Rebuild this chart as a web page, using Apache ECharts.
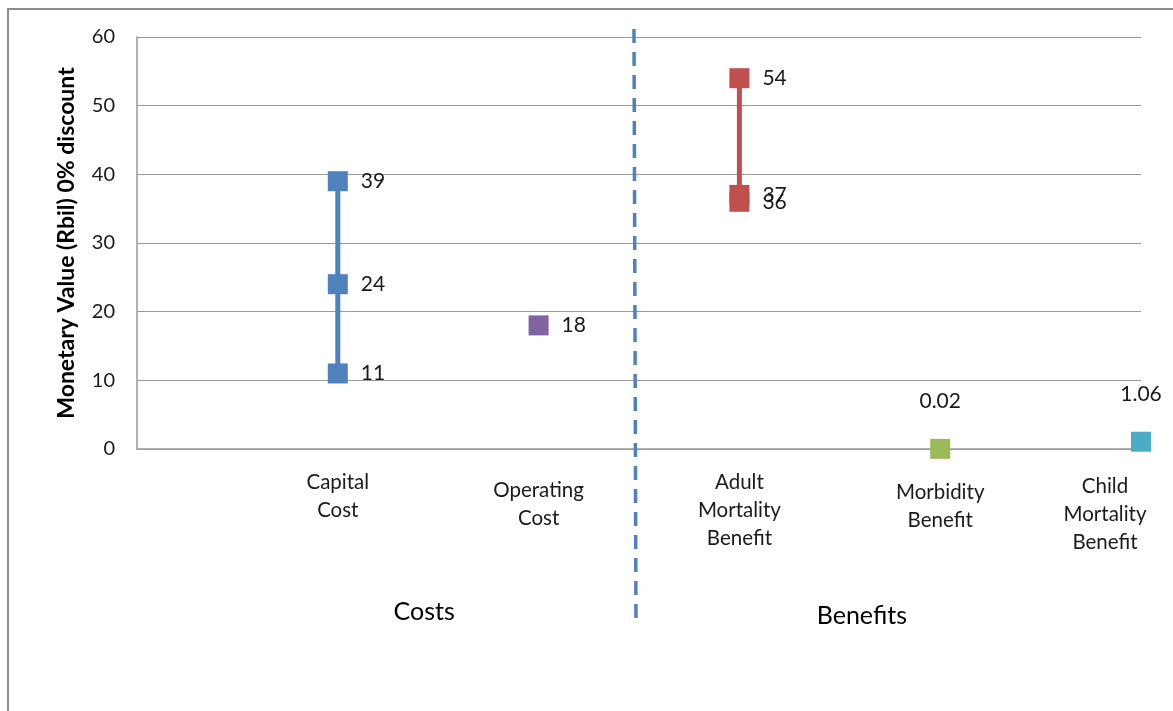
<!DOCTYPE html>
<html>
<head>
<meta charset="utf-8">
<script src="https://cdn.jsdelivr.net/npm/echarts@6/dist/echarts.min.js"></script>
<style>
  html, body { margin: 0; padding: 0; background: #fff; }
  #chart { width: 1173px; height: 711px; }
</style>
</head>
<body>
<div id="chart"></div>
<script>
// Category names along the horizontal axis (placed at positions 1..5)
const categories = ['Capital\nCost', 'Operating\nCost', 'Adult\nMortality\nBenefit', 'Morbidity\nBenefit', 'Child\nMortality\nBenefit'];

// Monetary values (R billion, 0% discount) per category
const capitalCost = [39, 24, 11];
const operatingCost = [18];
const adultMortality = [54, 37, 36];
const morbidityBenefit = [0.02];
const childMortality = [1.06];

// Value-axis ticks
const yMin = 0, yMax = 60, yStep = 10;

// Group captions below the categories and the split between them
const groupLabels = ['Costs', 'Benefits'];
const groupSplit = 2.475;

const FONT = 'Lato, "Open Sans", sans-serif';
const colors = ['#4F81BD', '#8064A2', '#C0504D', '#9BBB59', '#4BACC6'];
const seriesValues = [capitalCost, operatingCost, adultMortality, morbidityBenefit, childMortality];
const labelPos = ['right', 'right', 'right', 'top', 'top'];

// Per-category label layout: extra space above the first line, sideways shift
const catDrop = [0, 9, 1, 11, 5];
const catShift = [0, 0, 0, 0, 72];

const chart = echarts.init(document.getElementById('chart'), null, { renderer: 'canvas' });

const series = seriesValues.map((vals, i) => ({
  name: categories[i].replace(/\n/g, ' '),
  type: 'line',
  data: vals.map(v => [i + 1, v]),
  symbol: 'rect',
  symbolSize: 20,
  showAllSymbol: true,
  clip: false,
  itemStyle: { color: colors[i] },
  lineStyle: { color: colors[i], width: 5 },
  z: 3,
  label: {
    show: true,
    position: labelPos[i],
    distance: labelPos[i] === 'top' ? 27 : 13,
    formatter: p => String(p.value[1]),
    color: '#1a1a1a',
    fontFamily: FONT,
    fontSize: 21
  },
  labelLayout: { hideOverlap: false },
  emphasis: { disabled: true }
}));

// Rich styles for the category labels
const catRich = {};
categories.forEach((c, i) => {
  catRich['sp' + i] = { fontSize: 1, lineHeight: Math.max(catDrop[i], 1), padding: [0, catShift[i], 0, 0] };
  catRich['t' + i] = { fontFamily: FONT, fontSize: 20.5, lineHeight: 28, color: '#1a1a1a', padding: [0, catShift[i], 0, 0] };
});

const option = {
  animation: false,
  backgroundColor: '#fff',
  grid: { left: 137, top: 37, right: 32, bottom: 262, containLabel: false, outerBoundsMode: 'none' },
  xAxis: {
    type: 'value',
    min: 0,
    max: categories.length,
    interval: 1,
    splitLine: { show: false },
    axisTick: { show: false },
    axisLine: { show: true, lineStyle: { color: '#9a9a9a', width: 1.5 } },
    axisLabel: {
      margin: 18,
      align: 'center',
      verticalAlign: 'top',
      showMinLabel: false,
      hideOverlap: false,
      rich: catRich,
      formatter: v => {
        if (!(v >= 1 && v <= categories.length)) return '';
        const i = v - 1;
        return '{sp' + i + '| }\n' + categories[i].split('\n').map(s => '{t' + i + '|' + s + '}').join('\n');
      }
    }
  },
  yAxis: {
    type: 'value',
    min: yMin,
    max: yMax,
    interval: yStep,
    name: 'Monetary Value (Rbil) 0% discount',
    nameLocation: 'middle',
    nameGap: 59,
    nameRotate: 90,
    nameTextStyle: { color: '#000', fontFamily: FONT, fontSize: 23, fontWeight: 'bold' },
    axisLine: { show: true, lineStyle: { color: '#9a9a9a', width: 1.5 } },
    axisTick: { show: false },
    splitLine: { show: true, lineStyle: { color: '#9a9a9a', width: 1.2 } },
    axisLabel: { margin: 22, color: '#1a1a1a', fontFamily: FONT, fontSize: 20 }
  },
  series: series
};

chart.setOption(option);

// Dashed divider between costs and benefits, outer frame and group captions
const splitX = chart.convertToPixel({ xAxisIndex: 0 }, groupSplit);
const costsX = chart.convertToPixel({ xAxisIndex: 0 }, 1.43);
const benefitsX = chart.convertToPixel({ xAxisIndex: 0 }, 3.61);
chart.setOption({
  graphic: [
    { type: 'rect', shape: { x: 8, y: 9, width: 1240, height: 800 }, style: { fill: 'none', stroke: '#8c8c8c', lineWidth: 2 }, silent: true, z: 0 },
    { type: 'line', shape: { x1: splitX, y1: 29, x2: splitX + 2, y2: 623 }, style: { stroke: '#4F81BD', lineWidth: 3.5, lineDash: [14, 9] }, silent: true, z: 10 },
    { type: 'text', x: costsX, y: 612, style: { text: groupLabels[0], fill: '#000', font: '25px ' + FONT, textAlign: 'center', textVerticalAlign: 'middle' }, silent: true },
    { type: 'text', x: benefitsX, y: 616, style: { text: groupLabels[1], fill: '#000', font: '25px ' + FONT, textAlign: 'center', textVerticalAlign: 'middle' }, silent: true }
  ]
});
</script>
</body>
</html>
